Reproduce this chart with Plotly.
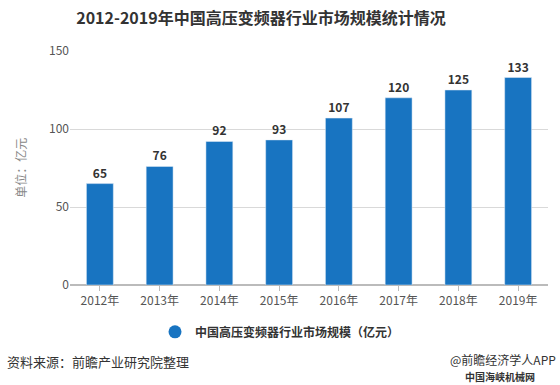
import plotly.graph_objects as go

years = ["2012年", "2013年", "2014年", "2015年", "2016年", "2017年", "2018年", "2019年"]
values = [65, 76, 92, 93, 107, 120, 125, 133]
y_ticks = [0, 50, 100, 150]

BLUE = "#1874C1"
FONT = "Noto Sans CJK SC"

fig = go.Figure()
fig.add_trace(go.Bar(
    x=years, y=values, marker_color=BLUE, width=0.45,
    text=[str(v) for v in values], textposition="outside",
    textfont=dict(family=FONT, size=12, color="#333333", weight="bold"),
    cliponaxis=False, showlegend=False,
))
fig.add_trace(go.Scatter(
    x=[None], y=[None], mode="markers",
    marker=dict(symbol="circle", size=13, color=BLUE),
    name="中国高压变频器行业市场规模（亿元）", showlegend=True,
))

fig.update_layout(
    width=560, height=385,
    margin=dict(l=70, r=12, t=51, b=100, autoexpand=False),
    paper_bgcolor="white", plot_bgcolor="white",
    font=dict(family=FONT, color="#666666", size=12),
    title=dict(text="<b>2012-2019年中国高压变频器行业市场规模统计情况</b>",
               x=0.466, xanchor="center", xref="container", yref="container",
               y=0.953, yanchor="middle",
               font=dict(family=FONT, size=16, color="#333333")),
    bargap=0.55,
    legend=dict(orientation="h", x=0.5, xanchor="center", xref="container",
                yref="container", y=0.138, yanchor="middle",
                font=dict(family=FONT, size=12, color="#333333", weight="bold"),
                itemwidth=30),
    xaxis=dict(type="category", showgrid=False, showline=True, linecolor="#bbbbbb",
               ticks="outside", ticklen=5, tickcolor="#bbbbbb", automargin=False,
               tickfont=dict(size=12, color="#555555")),
    yaxis=dict(range=[0, 150], tickvals=y_ticks, showgrid=True, gridcolor="#d9d9d9",
               zeroline=True, zerolinecolor="#bbbbbb", ticks="", automargin=False,
               tickfont=dict(size=12, color="#555555")),
    annotations=[
        dict(text="单位：亿元", xref="paper", yref="paper", x=-0.105, y=0.5,
             xanchor="center", yanchor="middle", textangle=-90, showarrow=False,
             font=dict(family=FONT, size=12, color="#888888")),
        dict(text="资料来源：前瞻产业研究院整理", xref="paper", yref="paper", x=-0.136,
             xanchor="left", y=-0.325, yanchor="middle", showarrow=False,
             font=dict(family=FONT, size=13, color="#333333")),
        dict(text="@前瞻经济学人APP", xref="paper", yref="paper", x=1.021, xanchor="right",
             y=-0.32, yanchor="middle", showarrow=False,
             font=dict(family=FONT, size=12, color="#333333")),
        dict(text="<b>中国海峡机械网</b>", xref="paper", yref="paper", x=0.977, xanchor="right",
             y=-0.392, yanchor="middle", showarrow=False,
             font=dict(family=FONT, size=10, color="#333333")),
    ],
)

fig.write_html("out.html", config={"displayModeBar": False},
               post_script="document.body.style.margin='0';")
